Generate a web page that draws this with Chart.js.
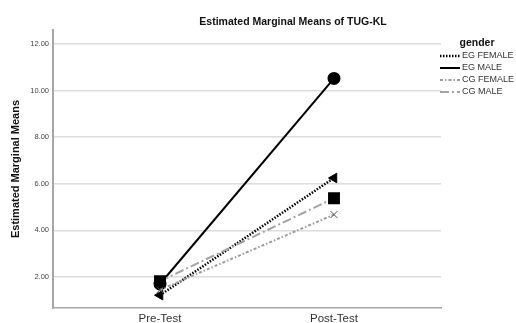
<!DOCTYPE html>
<html>
<head>
<meta charset="utf-8">
<script src="https://cdn.jsdelivr.net/npm/chart.js@4.4.0/dist/chart.umd.min.js"></script>
<style>
  html, body { margin: 0; padding: 0; background: #fff; }
</style>
</head>
<body>
<canvas id="myLineChart" width="516" height="323"></canvas>
<script>
const times = ['Pre-Test', 'Post-Test'];
const groups = ['EG FEMALE', 'EG MALE', 'CG FEMALE', 'CG MALE'];
const egFemale = [1.22, 6.25];
const egMale = [1.70, 10.52];
const cgFemale = [1.45, 4.68];
const cgMale = [1.82, 5.38];
const yTicks = [2, 4, 6, 8, 10, 12];

const FONT = '"Liberation Sans", Arial, sans-serif';

function pts(vals) {
    return vals.map((v, i) => ({ x: i, y: v }));
}

const data = {
    datasets: [
        {
            label: groups[0],
            data: pts(egFemale),
            borderColor: '#000',
            borderWidth: 2.5,
            borderDash: [1.5, 1.5],
            pointStyle: 'triangle',
            pointRotation: 270,
            pointRadius: 5.5,
            pointBackgroundColor: '#000',
            pointBorderColor: '#000',
            pointBorderWidth: 1,
            order: 3
        },
        {
            label: groups[1],
            data: pts(egMale),
            borderColor: '#000',
            borderWidth: 2,
            pointStyle: 'circle',
            pointRadius: 5.5,
            pointBackgroundColor: '#000',
            pointBorderColor: '#000',
            order: 2
        },
        {
            label: groups[2],
            data: pts(cgFemale),
            borderColor: '#9c9c9c',
            borderWidth: 2,
            borderDash: [3, 2, 1.5, 2],
            pointStyle: 'crossRot',
            pointRadius: 5,
            pointBorderColor: '#555',
            pointBorderWidth: 1,
            order: 1
        },
        {
            label: groups[3],
            data: pts(cgMale),
            borderColor: '#a3a3a3',
            borderWidth: 2,
            borderDash: [9, 3, 2, 3],
            pointStyle: 'rect',
            pointRadius: 7,
            pointBackgroundColor: '#000',
            pointBorderColor: '#000',
            order: 0
        }
    ]
};

// title + legend, SPSS style
const decor = {
    id: 'decor',
    afterDraw(chart) {
        const ctx = chart.ctx;
        ctx.save();
        ctx.fillStyle = '#111';
        ctx.textAlign = 'center';
        ctx.textBaseline = 'middle';
        ctx.font = 'bold 10.5px ' + FONT;
        ctx.fillText('Estimated Marginal Means of TUG-KL', 293, 22);

        ctx.font = 'bold 10.5px ' + FONT;
        ctx.fillText('gender', 477, 43);

        ctx.textAlign = 'left';
        ctx.font = '9px ' + FONT;
        chart.data.datasets.forEach((ds, i) => {
            const y = 56 + i * 12;
            ctx.beginPath();
            ctx.strokeStyle = ds.borderColor;
            ctx.lineWidth = ds.borderWidth;
            ctx.setLineDash(ds.borderDash || []);
            ctx.moveTo(440, y);
            ctx.lineTo(460, y);
            ctx.stroke();
            ctx.setLineDash([]);
            ctx.fillStyle = '#333';
            ctx.fillText(ds.label, 462, y);
        });
        ctx.restore();
    }
};

const config = {
    type: 'line',
    data: data,
    options: {
        responsive: false,
        animation: false,
        layout: { padding: { top: 30, right: 75, left: 0, bottom: 0 } },
        scales: {
            x: {
                type: 'linear',
                min: -0.615,
                max: 1.615,
                afterBuildTicks(scale) {
                    scale.ticks = times.map((t, i) => ({ value: i }));
                },
                afterFit(scale) { scale.height = 15; },
                grid: { display: false, drawTicks: false },
                border: { color: '#a6a6a6', width: 1.5 },
                ticks: {
                    callback: (v) => times[v],
                    font: { family: FONT, size: 11.5 },
                    color: '#333',
                    padding: 4,
                    maxRotation: 0
                }
            },
            y: {
                min: 0.67,
                max: 12.6,
                afterBuildTicks(scale) {
                    scale.ticks = yTicks.map(v => ({ value: v }));
                },
                afterFit(scale) { scale.width = 53; },
                grid: { color: '#dcdcdc', lineWidth: 1.5, drawTicks: false },
                border: { color: '#a6a6a6', width: 2 },
                ticks: {
                    callback: (v) => v.toFixed(2),
                    font: { family: FONT, size: 7.5 },
                    color: '#444',
                    padding: 4
                },
                title: {
                    display: true,
                    text: 'Estimated Marginal Means',
                    font: { family: FONT, size: 11, weight: 'bold' },
                    color: '#111',
                    padding: { top: 9, bottom: 0 }
                }
            }
        },
        plugins: {
            legend: { display: false },
            tooltip: { enabled: false }
        }
    },
    plugins: [decor]
};

const myLineChart = new Chart(document.getElementById('myLineChart'), config);
</script>
</body>
</html>
